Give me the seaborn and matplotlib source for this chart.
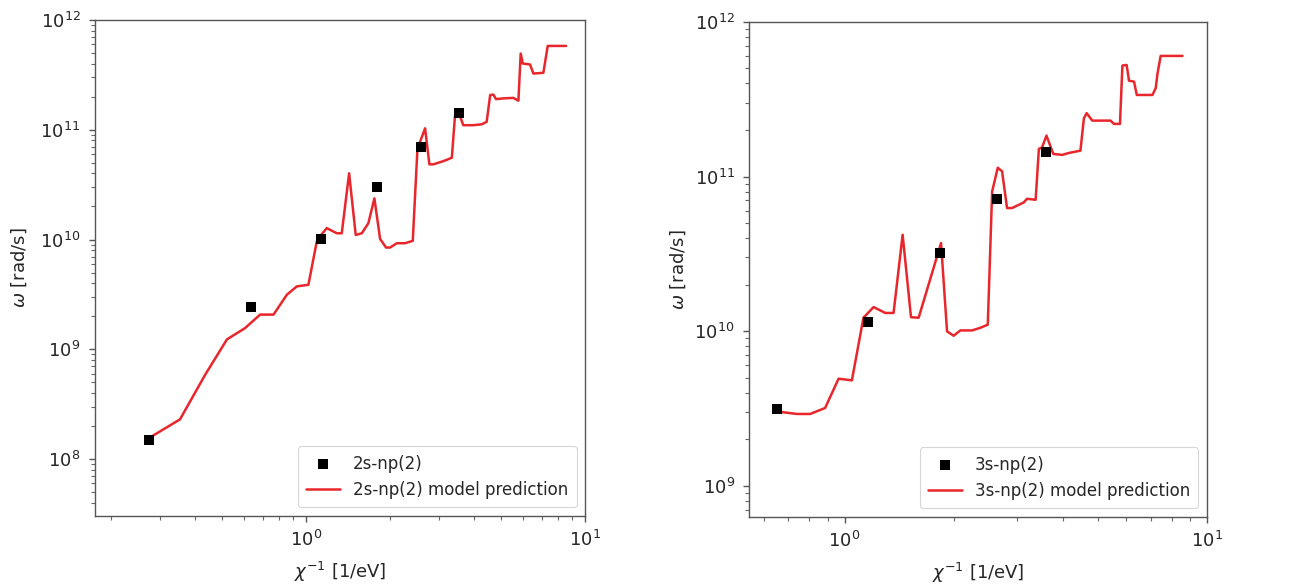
import numpy as np
import pandas as pd
import matplotlib
matplotlib.use("Agg")
import matplotlib.pyplot as plt
import matplotlib.ticker as mticker
import seaborn as sns

# ---- Left panel: 2s-np(2) ----
left_obs_x = [0.274, 0.635, 1.13, 1.80, 2.58, 3.53]
left_obs_y = [1.5e8, 2.44e9, 1.01e10, 2.99e10, 6.9e10, 1.41e11]

left_model_x = [0.274, 0.353, 0.435, 0.520, 0.604, 0.684, 0.764, 0.853, 0.926, 1.019,
                1.092, 1.132, 1.186, 1.288, 1.342, 1.426, 1.506, 1.584, 1.672, 1.757,
                1.842, 1.935, 2.000, 2.114, 2.264, 2.412, 2.506, 2.563, 2.670, 2.767,
                2.858, 3.064, 3.19, 3.33, 3.42, 3.51, 3.66, 3.98, 4.26, 4.44,
                4.57, 4.69, 4.80, 5.09, 5.53, 5.77, 5.88, 5.98, 6.35, 6.53,
                7.09, 7.35, 8.55]
left_model_y = [1.56e8, 2.30e8, 5.89e8, 1.23e9, 1.56e9, 2.07e9, 2.07e9, 3.14e9, 3.74e9, 3.87e9,
                9.6e9, 1.10e10, 1.27e10, 1.14e10, 1.14e10, 4.01e10, 1.10e10, 1.14e10, 1.41e10, 2.37e10,
                1.01e10, 8.45e9, 8.45e9, 9.25e9, 9.25e9, 9.73e9, 6.54e10, 7.78e10, 1.03e11, 4.84e10,
                4.84e10, 5.12e10, 5.31e10, 5.56e10, 1.36e11, 1.48e11, 1.10e11, 1.10e11, 1.12e11, 1.18e11,
                2.07e11, 2.09e11, 1.90e11, 1.93e11, 1.95e11, 1.84e11, 4.94e11, 4.01e11, 3.93e11, 3.25e11,
                3.30e11, 5.80e11, 5.80e11]

# ---- Right panel: 3s-np(2) ----
right_obs_x = [0.652, 1.16, 1.83, 2.64, 3.60]
right_obs_y = [3.15e9, 1.14e10, 3.20e10, 7.18e10, 1.44e11]

right_model_x = [0.643, 0.739, 0.804, 0.884, 0.963, 1.048, 1.128, 1.203, 1.296, 1.366,
                 1.447, 1.526, 1.602, 1.847, 1.919, 2.001, 2.089, 2.25, 2.37, 2.486,
                 2.556, 2.649, 2.723, 2.81, 2.90, 3.126, 3.19, 3.37, 3.44, 3.51,
                 3.61, 3.77, 3.99, 4.16, 4.48, 4.58, 4.66, 4.83, 5.43, 5.54,
                 5.76, 5.85, 6.01, 6.10, 6.30, 6.41, 7.08, 7.23, 7.31, 7.46, 8.57]
right_model_y = [3.03e9, 2.91e9, 2.91e9, 3.18e9, 4.92e9, 4.80e9, 1.22e10, 1.43e10, 1.31e10, 1.31e10,
                 4.20e10, 1.23e10, 1.22e10, 3.71e10, 9.96e9, 9.33e9, 1.01e10, 1.01e10, 1.05e10, 1.10e10,
                 8.0e10, 1.14e11, 1.08e11, 6.25e10, 6.25e10, 6.80e10, 7.18e10, 7.07e10, 1.51e11, 1.54e11,
                 1.84e11, 1.40e11, 1.38e11, 1.42e11, 1.47e11, 2.38e11, 2.57e11, 2.30e11, 2.30e11, 2.19e11,
                 2.19e11, 5.22e11, 5.27e11, 4.17e11, 4.11e11, 3.37e11, 3.37e11, 3.73e11, 4.61e11, 6.03e11, 6.03e11]

labels_left = ["2s-np(2)", "2s-np(2) model prediction"]
labels_right = ["3s-np(2)", "3s-np(2) model prediction"]

sns.set_style("white")
plt.rcParams["font.family"] = ["DejaVu Sans"]
plt.rcParams["mathtext.fontset"] = "dejavusans"

fig = plt.figure(figsize=(13.07, 5.87), dpi=100)
ax1 = fig.add_axes([0.0727, 0.1215, 0.3749, 0.8445])
ax2 = fig.add_axes([0.5733, 0.1198, 0.3500, 0.8428])

red = "#e8262b"

def draw(ax, ox, oy, mx, my, labels, xlim, ylim):
    dm = pd.DataFrame({"x": mx, "y": my})
    do = pd.DataFrame({"x": ox, "y": oy})
    ax.set_xscale("log")
    ax.set_yscale("log")
    sns.scatterplot(data=do, x="x", y="y", ax=ax, marker="s", s=50, color="black",
                    edgecolor="black", linewidth=0, label=labels[0], zorder=3)
    sns.lineplot(data=dm, x="x", y="y", ax=ax, color=red, linewidth=1.8,
                 label=labels[1], sort=False, estimator=None, zorder=2)
    ax.set_xlim(*xlim)
    ax.set_ylim(*ylim)
    ax.yaxis.set_minor_locator(mticker.LogLocator(base=10, subs=[2, 3, 4, 5, 6, 7, 8, 9], numticks=30))
    ax.yaxis.set_minor_formatter(mticker.NullFormatter())
    ax.set_xlabel(r"$\chi^{-1}$ [1/eV]", fontsize=13, labelpad=7)
    ax.set_ylabel(r"$\omega$ [rad/s]", fontsize=13)
    ax.tick_params(axis="both", which="major", labelsize=13, length=4.5, width=1.0,
                   direction="out", bottom=True, left=True, color="#555555", pad=6)
    ax.tick_params(axis="both", which="minor", length=3, width=0.8, direction="out",
                   bottom=True, left=True, color="#666666")
    for sp in ax.spines.values():
        sp.set_color("#555555")
        sp.set_linewidth(1.0)
    leg = ax.legend(loc="lower right", fontsize=12, frameon=True, framealpha=0.8,
                    edgecolor="#cccccc", borderpad=0.5, handlelength=2.0)
    leg.get_frame().set_linewidth(0.8)

draw(ax1, left_obs_x, left_obs_y, left_model_x, left_model_y, labels_left,
     (0.175, 10), (3.05e7, 1e12))
draw(ax2, right_obs_x, right_obs_y, right_model_x, right_model_y, labels_right,
     (0.546, 10), (6.3e8, 1e12))

ax1.yaxis.set_label_coords(-0.135, 0.5)
ax2.yaxis.set_label_coords(-0.135, 0.5)

fig.savefig("out.png", dpi=100)
